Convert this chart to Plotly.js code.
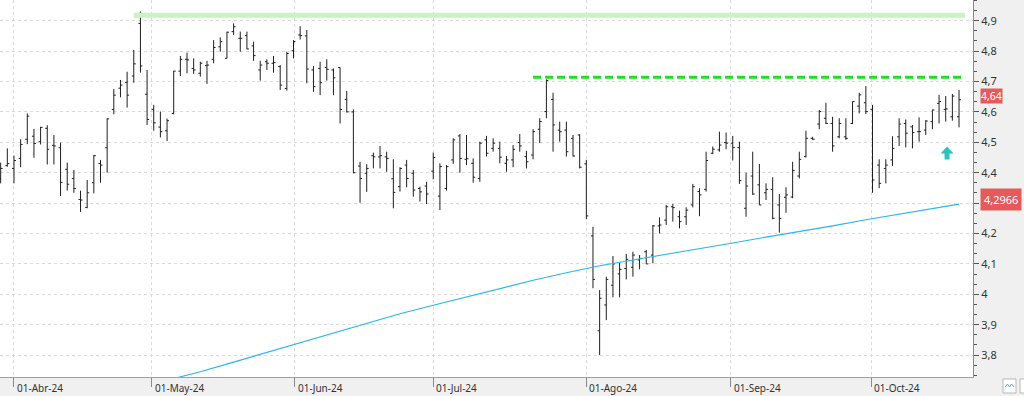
<!DOCTYPE html>
<html>
<head>
<meta charset="utf-8">
<script src="https://cdn.plot.ly/plotly-3.0.1.min.js"></script>
<style>
  html, body { margin: 0; padding: 0; background: #f0f0f0; }
  #chart { width: 1024px; height: 396px; }
</style>
</head>
<body>
<div id="chart"></div>
<script>
// ---- Daily OHLC bars (trading-day index 0..144) ----
const openP = [
  4.381,4.423,4.414,4.447,4.510,4.520,4.502,4.546,4.490,4.482,
  4.411,4.381,4.312,4.286,4.367,4.430,4.482,4.608,4.678,4.697,
  4.718,4.891,4.658,4.608,4.550,4.538,4.595,4.734,4.773,4.743,
  4.727,4.752,4.773,4.814,4.776,4.864,4.842,4.851,4.817,4.738,
  4.765,4.760,4.749,4.677,4.801,4.853,4.850,4.738,4.743,4.746,
  4.738,4.746,4.641,4.600,4.422,4.398,4.456,4.452,4.452,4.380,
  4.354,4.425,4.398,4.348,4.356,4.405,4.323,4.348,4.442,4.521,
  4.444,4.431,4.381,4.508,4.480,4.480,4.431,4.442,4.499,4.453,
  4.458,4.543,4.601,4.641,4.540,4.540,4.513,4.524,4.429,4.192,
  3.880,3.965,4.030,4.067,4.085,4.089,4.113,4.140,4.129,4.225,
  4.244,4.288,4.255,4.255,4.294,4.338,4.345,4.464,4.475,4.499,
  4.497,4.483,4.283,4.389,4.360,4.334,4.345,4.294,4.319,4.320,
  4.389,4.453,4.513,4.560,4.579,4.562,4.518,4.518,4.562,4.619,
  4.630,4.608,4.425,4.414,4.442,4.518,4.562,4.551,4.535,4.540,
  4.568,4.628,4.608,4.584,4.584
];
const highP = [
  4.433,4.480,4.456,4.510,4.595,4.544,4.551,4.556,4.524,4.499,
  4.433,4.409,4.341,4.376,4.458,4.442,4.579,4.675,4.705,4.732,
  4.804,4.930,4.738,4.623,4.601,4.578,4.735,4.784,4.795,4.776,
  4.765,4.768,4.836,4.845,4.864,4.891,4.864,4.864,4.831,4.768,
  4.773,4.784,4.754,4.798,4.836,4.882,4.869,4.751,4.765,4.773,
  4.743,4.746,4.669,4.608,4.436,4.428,4.466,4.488,4.469,4.444,
  4.418,4.442,4.409,4.354,4.370,4.466,4.431,4.425,4.513,4.527,
  4.524,4.447,4.502,4.521,4.513,4.502,4.455,4.491,4.527,4.472,
  4.543,4.579,4.707,4.663,4.568,4.568,4.524,4.527,4.442,4.222,
  4.014,4.058,4.126,4.104,4.133,4.140,4.129,4.146,4.228,4.253,
  4.294,4.297,4.275,4.286,4.363,4.349,4.469,4.486,4.535,4.532,
  4.521,4.502,4.400,4.469,4.429,4.365,4.385,4.330,4.352,4.436,
  4.469,4.538,4.518,4.606,4.630,4.584,4.579,4.579,4.634,4.663,
  4.685,4.623,4.444,4.444,4.520,4.579,4.575,4.557,4.582,4.573,
  4.608,4.656,4.652,4.659,4.672
];
const lowP = [
  4.365,4.420,4.365,4.418,4.494,4.449,4.493,4.427,4.427,4.323,
  4.341,4.334,4.271,4.283,4.332,4.367,4.400,4.592,4.648,4.614,
  4.696,4.729,4.557,4.538,4.516,4.504,4.592,4.718,4.727,4.725,
  4.716,4.692,4.760,4.798,4.776,4.853,4.798,4.806,4.768,4.703,
  4.738,4.729,4.672,4.670,4.776,4.838,4.694,4.666,4.655,4.703,
  4.655,4.562,4.598,4.398,4.301,4.337,4.414,4.414,4.403,4.283,
  4.338,4.352,4.321,4.305,4.297,4.378,4.277,4.341,4.429,4.400,
  4.425,4.367,4.370,4.453,4.469,4.431,4.403,4.418,4.469,4.414,
  4.444,4.497,4.579,4.469,4.502,4.453,4.453,4.414,4.247,4.020,
  3.800,3.915,3.990,3.990,4.049,4.058,4.082,4.100,4.102,4.200,
  4.228,4.239,4.217,4.228,4.286,4.257,4.338,4.461,4.469,4.477,
  4.440,4.363,4.255,4.327,4.294,4.310,4.247,4.203,4.268,4.316,
  4.381,4.450,4.508,4.543,4.560,4.469,4.513,4.508,4.560,4.595,
  4.593,4.334,4.349,4.365,4.422,4.488,4.483,4.480,4.502,4.524,
  4.543,4.562,4.568,4.571,4.549
];
const closeP = [
  4.414,4.430,4.440,4.493,4.586,4.496,4.549,4.477,4.488,4.368,
  4.362,4.348,4.310,4.334,4.456,4.425,4.577,4.655,4.688,4.655,
  4.758,4.751,4.575,4.564,4.535,4.571,4.734,4.773,4.771,4.738,
  4.760,4.754,4.812,4.831,4.862,4.880,4.842,4.807,4.785,4.754,
  4.760,4.762,4.688,4.792,4.831,4.851,4.741,4.683,4.696,4.740,
  4.712,4.608,4.600,4.400,4.381,4.414,4.452,4.456,4.447,4.335,
  4.414,4.381,4.343,4.337,4.330,4.450,4.420,4.420,4.508,4.447,
  4.446,4.385,4.497,4.464,4.497,4.451,4.442,4.477,4.488,4.436,
  4.535,4.568,4.703,4.557,4.535,4.469,4.455,4.418,4.258,4.049,
  3.987,4.049,4.100,4.082,4.115,4.129,4.118,4.100,4.225,4.228,
  4.288,4.285,4.239,4.277,4.354,4.327,4.440,4.477,4.491,4.497,
  4.483,4.374,4.356,4.330,4.294,4.345,4.250,4.250,4.327,4.407,
  4.444,4.513,4.510,4.601,4.562,4.488,4.562,4.513,4.634,4.656,
  4.601,4.376,4.365,4.425,4.480,4.560,4.530,4.532,4.535,4.570,
  4.606,4.634,4.610,4.652,4.640
];

const maIndex = [24,30,35,40,45,50,55,60,65,70,75,80,85,90,95,100,105,110,115,120,125,130,135,140,144];
const maValue = [3.712,3.745,3.777,3.809,3.841,3.872,3.904,3.936,3.964,3.992,4.019,4.046,4.071,4.094,4.113,4.131,4.150,4.169,4.188,4.206,4.225,4.245,4.263,4.281,4.2966];

// ---- Horizontal levels ----
const levelValue = [4.918, 4.714];
const levelFrom  = [20, 80];
const levelTo    = [144.9, 144.9];

// ---- Signal arrow ----
const signalIndex = 142.2;
const signalValue = 4.463;

// ---- X tick labels (first session of each month) ----
const monthTickPos   = [2, 22.7, 44.2, 65, 87.95, 109.7, 130.8];
const monthTickLabel = ['01-Abr-24','01-May-24','01-Jun-24','01-Jul-24','01-Ago-24','01-Sep-24','01-Oct-24'];

// ---- Y tick labels (4,3 is covered by the indicator label in the original) ----
const priceTickVals  = [3.8, 3.9, 4.0, 4.1, 4.2, 4.3, 4.4, 4.5, 4.6, 4.7, 4.8, 4.9];
const priceTickText  = ['3,8','3,9','4','4,1','4,2','','4,4','4,5','4,6','4,7','4,8','4,9'];

const idx = openP.map((_, i) => i);
const fmt = v => String(v).replace('.', ',');

const traces = [
  {
    type: 'scatter', mode: 'lines',
    x: [levelFrom[0], levelTo[0]], y: [levelValue[0], levelValue[0]],
    line: { color: '#c6f5c2', width: 5 }, hoverinfo: 'skip', showlegend: false
  },
  {
    type: 'scatter', mode: 'lines',
    x: [levelFrom[1], levelTo[1]], y: [levelValue[1], levelValue[1]],
    line: { color: '#1fe01f', width: 3, dash: '8px,4px' }, hoverinfo: 'skip', showlegend: false
  },
  {
    type: 'scatter', mode: 'lines',
    x: maIndex, y: maValue,
    line: { color: '#2db4ee', width: 1.1 }, hoverinfo: 'skip', showlegend: false
  },
  {
    type: 'ohlc',
    x: idx, open: openP, high: highP, low: lowP, close: closeP,
    tickwidth: 0.3,
    increasing: { line: { color: '#1e1e1e', width: 1 } },
    decreasing: { line: { color: '#1e1e1e', width: 1 } },
    hoverinfo: 'skip', showlegend: false
  }
];

const annotations = monthTickLabel.map((t, k) => ({
  x: monthTickPos[k], xref: 'x', y: -0.029, yref: 'paper',
  text: t, showarrow: false, xanchor: 'left', yanchor: 'middle', xshift: 1,
  font: { family: 'Noto Sans, Open Sans, sans-serif', size: 10, color: '#333' }
}));
annotations.push({
  x: 1.0075, xref: 'paper', y: closeP[closeP.length - 1], yref: 'y', yshift: 4,
  text: fmt(closeP[closeP.length - 1]), showarrow: false, xanchor: 'left', yanchor: 'middle',
  bgcolor: '#e35b5b', borderpad: 0,
  font: { family: 'Noto Sans, Open Sans, sans-serif', size: 10.5, color: '#ffffff' }
});
annotations.push({
  x: 1.0075, xref: 'paper', y: maValue[maValue.length - 1], yref: 'y', yshift: 5,
  text: fmt(maValue[maValue.length - 1]), showarrow: false, xanchor: 'left', yanchor: 'middle',
  bgcolor: '#e35b5b', borderpad: 3,
  font: { family: 'Noto Sans, Open Sans, sans-serif', size: 11, color: '#ffffff' }
});

const shapes = [
  {
    type: 'path', xref: 'x', yref: 'y',
    xsizemode: 'pixel', ysizemode: 'pixel',
    xanchor: signalIndex, yanchor: signalValue,
    path: 'M 0 7 L 6.5 0 L 2.5 0 L 2.5 -6 L -2.5 -6 L -2.5 0 L -6.5 0 Z',
    fillcolor: '#2cc4bd', line: { width: 0 }
  },
  {
    type: 'rect', xref: 'paper', yref: 'paper',
    x0: 1003/973, x1: 1016/973, y0: -2/377, y1: -16/377,
    fillcolor: '#ffffff', line: { color: '#b8b8b8', width: 1 }
  },
  {
    type: 'path', xref: 'paper', yref: 'paper',
    path: `M ${1005/973} ${-10/377} L ${1007.5/973} ${-7/377} L ${1009.5/973} ${-10/377} L ${1011.5/973} ${-7/377} L ${1014/973} ${-10/377}`,
    line: { color: '#6aa7d8', width: 1 }
  },
  {
    type: 'rect', xref: 'paper', yref: 'paper',
    x0: 1020/973, x1: 1030/973, y0: -2/377, y1: -16/377,
    fillcolor: '#ffffff', line: { color: '#b8b8b8', width: 1 }
  }
];

const layout = {
  width: 1024, height: 396,
  margin: { l: 0, r: 51, t: 0, b: 19, pad: 0 },
  paper_bgcolor: '#f0f0f0',
  plot_bgcolor: '#ffffff',
  separators: ',.',
  showlegend: false,
  font: { family: 'Noto Sans, Open Sans, sans-serif', size: 11, color: '#333' },
  xaxis: {
    type: 'linear',
    range: [-0.1, 146.1],
    tickmode: 'array', tickvals: monthTickPos, ticktext: monthTickLabel,
    showticklabels: false,
    ticks: 'outside', ticklen: 9, tickcolor: '#8a8a8a', tickwidth: 1,
    showgrid: true, gridcolor: '#dadada', griddash: 'dot', gridwidth: 1,
    showline: true, linecolor: '#a0a0a0', linewidth: 1,
    zeroline: false, fixedrange: true,
    rangeslider: { visible: false }
  },
  yaxis: {
    side: 'right',
    range: [3.728, 4.968],
    tickmode: 'array', tickvals: priceTickVals, ticktext: priceTickText,
    ticks: 'outside', ticklen: 5, tickcolor: '#555', tickwidth: 1,
    minor: { tickmode: 'linear', dtick: 0.1/3, tick0: 0, ticks: 'outside', ticklen: 3, tickcolor: '#555', showgrid: false },
    tickfont: { family: 'Noto Sans, Open Sans, sans-serif', size: 11, color: '#333' },
    showgrid: true, gridcolor: '#dadada', griddash: 'dot', gridwidth: 1,
    showline: true, linecolor: '#8a8a8a', linewidth: 1,
    zeroline: false, fixedrange: true
  },
  annotations: annotations,
  shapes: shapes
};

Plotly.newPlot('chart', traces, layout, { displayModeBar: false, staticPlot: true });
</script>
</body>
</html>
